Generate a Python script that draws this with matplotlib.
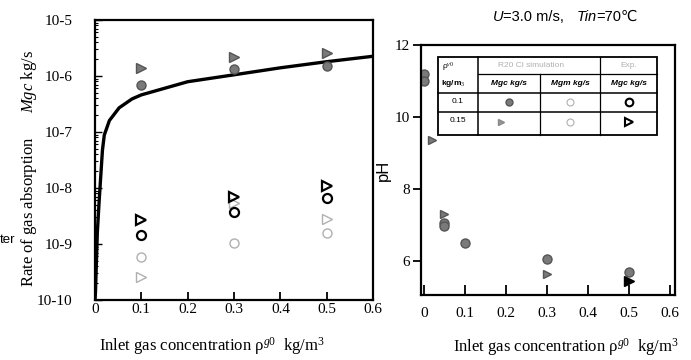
import numpy as np
import matplotlib
matplotlib.use("Agg")
import matplotlib.pyplot as plt
from matplotlib.ticker import FixedLocator, FixedFormatter, LogLocator, NullFormatter
from matplotlib.lines import Line2D
from matplotlib.patches import Rectangle

plt.rcParams['font.family'] = ['Liberation Serif', 'DejaVu Serif']
plt.rcParams['mathtext.fontset'] = 'custom'
plt.rcParams['mathtext.rm'] = 'Liberation Serif'
plt.rcParams['mathtext.it'] = 'Liberation Serif:italic'
plt.rcParams['mathtext.sf'] = 'Liberation Sans'

# ---- left panel: absorption rate ----
x_exp = [0.1, 0.3, 0.5]
mgc_sim_01 = [7.0e-7, 1.35e-6, 1.5e-6]
mgc_sim_015 = [1.4e-6, 2.2e-6, 2.6e-6]
mgm_sim_01 = [5.9e-10, 1.05e-9, 1.6e-9]
mgm_sim_015 = [2.6e-10, 5.4e-9, 2.8e-9]
mgc_exp_01 = [1.45e-9, 3.7e-9, 6.6e-9]
mgc_exp_015 = [2.7e-9, 7.0e-9, 1.1e-8]

curve_x = [0.0, 0.001, 0.005, 0.009, 0.016, 0.02, 0.031, 0.052, 0.08, 0.1,
           0.2, 0.3, 0.4, 0.5, 0.6]
curve_y = [1e-10, 1.4e-10, 1.6e-9, 6e-9, 4.7e-8, 8.8e-8, 1.6e-7, 2.7e-7,
           3.9e-7, 4.6e-7, 7.9e-7, 1.05e-6, 1.4e-6, 1.8e-6, 2.25e-6]

left_yticks = [1e-10, 1e-9, 1e-8, 1e-7, 1e-6, 1e-5]
left_ylabels = ['10-10', '10-9', '10-8', '10-7', '10-6', '10-5']
xticks = [0, 0.1, 0.2, 0.3, 0.4, 0.5, 0.6]
xlabels = ['0', '0.1', '0.2', '0.3', '0.4', '0.5', '0.6']

# ---- right panel: pH ----
ph_x_01 = [0.0, 0.0, 0.05, 0.05, 0.1, 0.3, 0.5]
ph_01 = [11.2, 11.0, 7.05, 6.98, 6.5, 6.04, 5.68]
ph_x_015 = [0.02, 0.05, 0.3, 0.5]
ph_015 = [9.35, 7.3, 5.62, 5.45]
right_yticks = [6, 8, 10, 12]

grey_fill = '#7a7a7a'
grey_edge = '#555555'
faint = '#b0b0b0'
sans = ['Liberation Sans', 'DejaVu Sans']

fig = plt.figure(figsize=(6.91, 3.6), dpi=100)

ax1 = fig.add_axes([0.1375, 0.1667, 0.4025, 0.7778])
ax1.set_yscale('log')
ax1.plot(curve_x, curve_y, color='black', lw=2.4, solid_capstyle='butt')
ax1.plot(x_exp, mgc_sim_01, 'o', ms=6.5, mfc=grey_fill, mec=grey_edge, mew=1)
ax1.plot(x_exp, mgc_sim_015, '>', ms=6.5, mfc=grey_fill, mec=grey_edge, mew=1)
ax1.plot(x_exp, mgm_sim_01, 'o', ms=6.5, mfc='none', mec=faint, mew=1, ls='none')
ax1.plot(x_exp, mgm_sim_015, '>', ms=6.5, mfc='none', mec=faint, mew=1, ls='none')
ax1.plot(x_exp, mgc_exp_01, 'o', ms=6.5, mfc='none', mec='black', mew=1.6)
ax1.plot(x_exp, mgc_exp_015, '>', ms=6.5, mfc='none', mec='black', mew=1.6)
ax1.set_xlim(0, 0.6)
ax1.set_ylim(1e-10, 1e-5)
ax1.yaxis.set_major_locator(FixedLocator(left_yticks))
ax1.yaxis.set_major_formatter(FixedFormatter(left_ylabels))
ax1.yaxis.set_minor_locator(LogLocator(base=10, subs=np.arange(2, 10), numticks=20))
ax1.yaxis.set_minor_formatter(NullFormatter())
ax1.set_xticks(xticks)
ax1.set_xticklabels(xlabels)
ax1.tick_params(axis='y', which='major', direction='in', length=5, width=1, pad=16, labelsize=11)
ax1.tick_params(axis='y', which='minor', direction='in', length=2.5, width=0.8)
ax1.tick_params(axis='x', direction='in', length=6, width=1.3, pad=2, labelsize=11)
for s in ax1.spines.values():
    s.set_linewidth(1.6)
ax1.set_ylabel('Rate of gas absorption      $\\mathit{Mgc}$ kg/s', fontsize=12)
ax1.yaxis.set_label_coords(-0.2, 0.47)
ax1.set_xlabel('Inlet gas concentration ρ$^{\\mathit{g0}}$  kg/m$^3$', fontsize=12)
ax1.xaxis.set_label_coords(0.42, -0.125)

fig.text(0.0, 1 - 240 / 360, 'ter', fontsize=9.5, family=sans, va='center', ha='left')

# right axes
ax2 = fig.add_axes([0.6093, 0.1806, 0.3676, 0.6944])
ax2.plot(ph_x_01, ph_01, 'o', ms=6.5, mfc=grey_fill, mec=grey_edge, mew=1)
ax2.plot(ph_x_015[:-1], ph_015[:-1], '>', ms=6, mfc=grey_fill, mec=grey_edge, mew=1)
ax2.plot(ph_x_015[-1:], ph_015[-1:], '>', ms=7, mfc='black', mec='black')
ax2.set_xlim(-0.007, 0.612)
ax2.set_ylim(5.05, 12)
ax2.set_yticks(right_yticks)
ax2.set_xticks(xticks)
ax2.set_xticklabels(xlabels)
ax2.tick_params(axis='y', direction='out', length=6, width=1.3, pad=2, labelsize=11)
ax2.tick_params(axis='x', direction='in', length=7, width=1.3, pad=9, labelsize=11)
for s in ax2.spines.values():
    s.set_linewidth(1.6)
ax2.set_ylabel('pH', fontsize=12, family=sans)
ax2.yaxis.set_label_coords(-0.12, 0.5)
ax2.set_xlabel('Inlet gas concentration ρ$^{\\mathit{g0}}$  kg/m$^3$', fontsize=12)
ax2.xaxis.set_label_coords(0.57, -0.165)

# title made of pieces
t = fig.text(0.713, 1 - 17 / 360, 'U', fontsize=10.5, family=sans, style='italic', va='center')
for txt, st in [('=3.0 m/s,   ', 'normal'), ('Tin', 'italic'), ('=70℃', 'normal')]:
    t = ax2.annotate(txt, xy=(1, 0), xycoords=t, va='bottom', ha='left',
                     fontsize=10.5, family=sans, style=st)

# legend table inside right axes
tx0, tx1 = 0.067, 0.929
ty0, ty1 = 0.64, 0.952
cols = [0.224, 0.469, 0.705]
rows = [0.884, 0.808, 0.732]
tr = ax2.transAxes
ax2.add_patch(Rectangle((tx0, ty0), tx1 - tx0, ty1 - ty0, transform=tr,
                        fill=True, fc='white', ec='black', lw=1.3, zorder=5))
ax2.add_line(Line2D([cols[0], tx1], [rows[0], rows[0]], transform=tr, color='black', lw=0.9, zorder=6))
for r in rows[1:]:
    ax2.add_line(Line2D([tx0, tx1], [r, r], transform=tr, color='black', lw=1.1, zorder=6))
ax2.add_line(Line2D([cols[0], cols[0]], [ty0, ty1], transform=tr, color='black', lw=1.1, zorder=6))
ax2.add_line(Line2D([cols[1], cols[1]], [ty0, rows[0]], transform=tr, color='black', lw=0.9, zorder=6))
ax2.add_line(Line2D([cols[2], cols[2]], [ty0, ty1], transform=tr, color='black', lw=0.9, zorder=6))

fs = 6
kw = dict(transform=tr, fontsize=fs, family=sans, zorder=7, va='center')
ax2.text(tx0 + 0.015, 0.915, 'ρ$^{\\mathit{v0}}$', ha='left', **kw)
ax2.text(tx0 + 0.012, 0.846, 'kg/m$_3$', ha='left', weight='bold', **kw)
ax2.text((cols[0] + cols[2]) / 2 - 0.03, 0.918, 'R20 Cl simulation', ha='center',
         color=faint, **kw)
ax2.text((cols[2] + tx1) / 2, 0.918, 'Exp.', ha='center', color=faint, **kw)
heads = ['Mgc kg/s', 'Mgm kg/s', 'Mgc kg/s']
bounds = [cols[0], cols[1], cols[2], tx1]
for i, h in enumerate(heads):
    ax2.text((bounds[i] + bounds[i + 1]) / 2, 0.846, h, ha='center', style='italic',
             weight='bold', **kw)
ax2.text((tx0 + cols[0]) / 2, 0.775, '0.1', ha='center', **kw)
ax2.text((tx0 + cols[0]) / 2, 0.696, '0.15', ha='center', **kw)
cx = [(bounds[i] + bounds[i + 1]) / 2 for i in range(3)]
mk = dict(transform=tr, zorder=7, ls='none')
ax2.plot([cx[0]], [0.77], 'o', ms=5, mfc=grey_fill, mec=grey_edge, **mk)
ax2.plot([cx[1]], [0.77], 'o', ms=5, mfc='none', mec=faint, mew=0.8, **mk)
ax2.plot([cx[2]], [0.77], 'o', ms=5.5, mfc='none', mec='black', mew=1.5, **mk)
ax2.plot([cx[0] - 0.03], [0.69], '>', ms=5, mfc='#999999', mec='#888888', **mk)
ax2.plot([cx[1]], [0.69], 'o', ms=5, mfc='none', mec=faint, mew=0.8, **mk)
ax2.plot([cx[2]], [0.69], '>', ms=5.5, mfc='none', mec='black', mew=1.5, **mk)

fig.savefig('out.png', dpi=100)
